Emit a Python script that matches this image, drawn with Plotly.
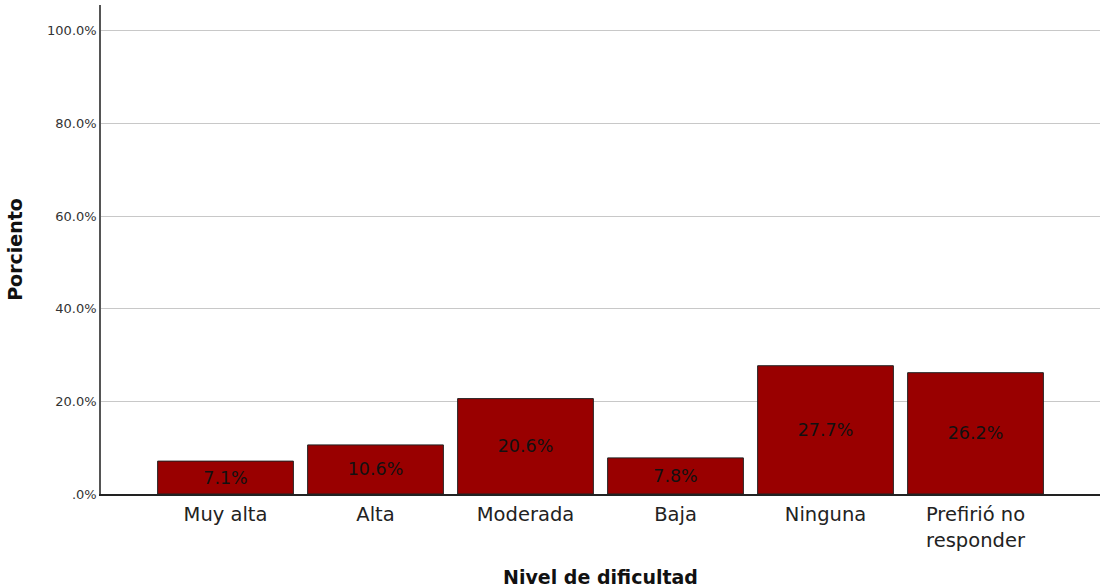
import plotly.graph_objects as go

categories = ["Muy alta", "Alta", "Moderada", "Baja", "Ninguna", "Prefirió no<br>responder"]
values = [7.1, 10.6, 20.6, 7.8, 27.7, 26.2]
tick_vals = [0, 20, 40, 60, 80, 100]
tick_text = [".0%", "20.0%", "40.0%", "60.0%", "80.0%", "100.0%"]

fig = go.Figure(go.Bar(
    x=list(range(len(categories))),
    y=values,
    text=[f"{v:.1f}%" for v in values],
    textposition="inside",
    insidetextanchor="middle",
    textangle=0,
    textfont=dict(family="DejaVu Sans", size=17.5, color="#111111"),
    marker=dict(color="#990000", line=dict(color="#222222", width=1)),
    width=0.905,
))

fig.update_layout(
    width=1102, height=588,
    margin=dict(l=101, r=2, t=5, b=94),
    plot_bgcolor="white", paper_bgcolor="white",
    showlegend=False,
    font=dict(family="DejaVu Sans", color="#222222"),
    xaxis=dict(
        range=[-0.83, 5.83],
        tickvals=list(range(len(categories))),
        ticktext=categories,
        tickfont=dict(size=19.5, color="#222222"),
        ticklabelstandoff=2,
        showline=True, linecolor="#222222", linewidth=1.5,
        showgrid=False, ticks="", zeroline=False,
        automargin=False,
        title=dict(text="<b>Nivel de dificultad</b>", font=dict(size=19, color="#111111"), standoff=20),
    ),
    yaxis=dict(
        range=[0, 105.6],
        tickvals=tick_vals,
        ticktext=tick_text,
        tickfont=dict(size=13, color="#333333"),
        showline=True, linecolor="#555555", linewidth=1.5,
        showgrid=True, gridcolor="#c8c8c8", gridwidth=1,
        zeroline=False, ticks="",
        automargin=False,
        title=dict(text="<b>Porciento</b>", font=dict(size=19, color="#111111"), standoff=19),
    ),
)

fig.write_html("out.html", config={"displayModeBar": False},
               post_script="document.body.style.margin='0';")
